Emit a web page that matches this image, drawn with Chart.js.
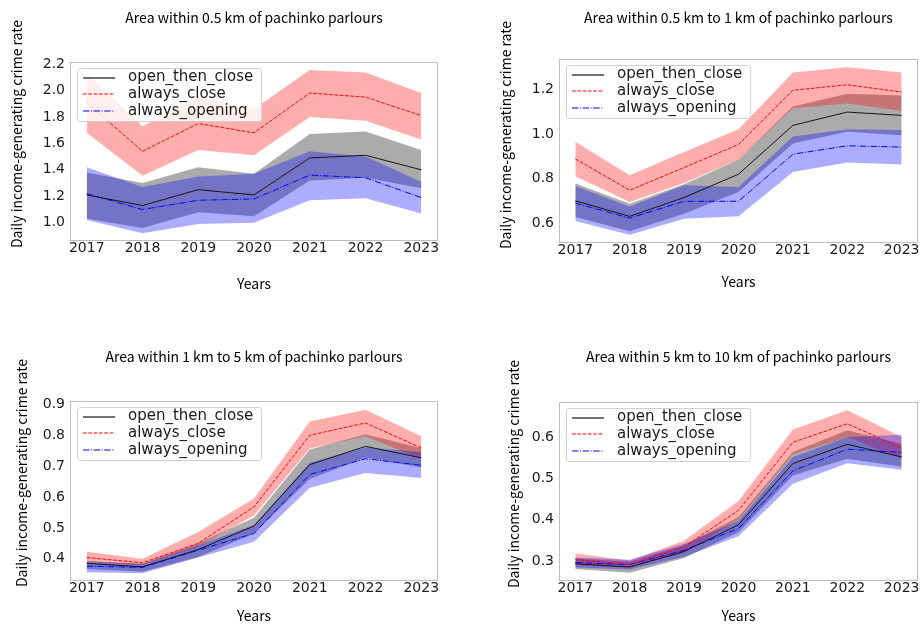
<!DOCTYPE html>
<html>
<head>
<meta charset="utf-8">
<script src="https://cdn.jsdelivr.net/npm/chart.js@4.4.1/dist/chart.umd.min.js"></script>
<style>
  html, body { margin: 0; padding: 0; background: #ffffff; overflow: hidden; }
  #wrap { position: relative; width: 921px; height: 624px; }
  #wrap canvas { position: absolute; }
</style>
</head>
<body>
<div id="wrap"></div>
<script>
// ---- shared categories / labels ----
const years = [2017, 2018, 2019, 2020, 2021, 2022, 2023];
const seriesNames = ['open_then_close', 'always_close', 'always_opening'];
const panelTitles = [
  'Area within 0.5 km of pachinko parlours',
  'Area within 0.5 km to 1 km of pachinko parlours',
  'Area within 1 km to 5 km of pachinko parlours',
  'Area within 5 km to 10 km of pachinko parlours'
];
const yAxisTitle = 'Daily income-generating crime rate';
const xAxisTitle = 'Years';

// ---- y tick values per panel ----
const yTicks05 = [1.0, 1.2, 1.4, 1.6, 1.8, 2.0, 2.2];
const yTicks05to1 = [0.6, 0.8, 1.0, 1.2];
const yTicks1to5 = [0.4, 0.5, 0.6, 0.7, 0.8, 0.9];
const yTicks5to10 = [0.3, 0.4, 0.5, 0.6];

// ---- within 0.5 km ----
const openMean05  = [1.21, 1.13, 1.25, 1.21, 1.49, 1.51, 1.40];
const openUpper05 = [1.38, 1.30, 1.42, 1.37, 1.67, 1.69, 1.55];
const openLower05 = [1.03, 0.96, 1.08, 1.05, 1.32, 1.34, 1.26];
const closeMean05  = [1.91, 1.54, 1.75, 1.68, 1.98, 1.95, 1.81];
const closeUpper05 = [2.13, 1.73, 1.95, 1.86, 2.155, 2.135, 1.98];
const closeLower05 = [1.68, 1.355, 1.55, 1.51, 1.80, 1.77, 1.63];
const alwaysMean05  = [1.22, 1.10, 1.17, 1.18, 1.36, 1.34, 1.19];
const alwaysUpper05 = [1.42, 1.27, 1.35, 1.37, 1.54, 1.50, 1.31];
const alwaysLower05 = [1.02, 0.92, 0.99, 1.00, 1.17, 1.185, 1.07];

// ---- 0.5 km to 1 km ----
const openMean05to1  = [0.70, 0.63, 0.715, 0.82, 1.04, 1.10, 1.085];
const openUpper05to1 = [0.778, 0.687, 0.775, 0.886, 1.125, 1.182, 1.174];
const openLower05to1 = [0.627, 0.563, 0.642, 0.74, 0.958, 1.011, 0.996];
const closeMean05to1  = [0.889, 0.748, 0.85, 0.954, 1.198, 1.223, 1.19];
const closeUpper05to1 = [0.966, 0.815, 0.92, 1.022, 1.278, 1.302, 1.278];
const closeLower05to1 = [0.811, 0.695, 0.78, 0.886, 1.117, 1.138, 1.105];
const alwaysMean05to1  = [0.69, 0.622, 0.698, 0.698, 0.91, 0.948, 0.942];
const alwaysUpper05to1 = [0.767, 0.675, 0.77, 0.762, 0.99, 1.022, 1.019];
const alwaysLower05to1 = [0.609, 0.547, 0.619, 0.63, 0.83, 0.873, 0.864];

// ---- 1 km to 5 km ----
const openMean1to5  = [0.385, 0.374, 0.43, 0.506, 0.705, 0.764, 0.727];
const openUpper1to5 = [0.392, 0.385, 0.45, 0.533, 0.754, 0.803, 0.758];
const openLower1to5 = [0.367, 0.358, 0.406, 0.482, 0.658, 0.728, 0.696];
const closeMean1to5  = [0.404, 0.387, 0.45, 0.568, 0.80, 0.84, 0.759];
const closeUpper1to5 = [0.423, 0.40, 0.487, 0.595, 0.845, 0.883, 0.797];
const closeLower1to5 = [0.39, 0.38, 0.44, 0.54, 0.757, 0.797, 0.722];
const alwaysMean1to5  = [0.376, 0.372, 0.428, 0.482, 0.673, 0.724, 0.703];
const alwaysUpper1to5 = [0.392, 0.382, 0.444, 0.509, 0.711, 0.76, 0.746];
const alwaysLower1to5 = [0.356, 0.353, 0.404, 0.455, 0.63, 0.678, 0.662];

// ---- 5 km to 10 km ----
const openMean5to10  = [0.293, 0.285, 0.323, 0.388, 0.537, 0.584, 0.553];
const openUpper5to10 = [0.306, 0.298, 0.338, 0.407, 0.565, 0.618, 0.585];
const openLower5to10 = [0.28, 0.271, 0.307, 0.37, 0.508, 0.549, 0.529];
const closeMean5to10  = [0.303, 0.291, 0.334, 0.423, 0.589, 0.634, 0.575];
const closeUpper5to10 = [0.318, 0.301, 0.349, 0.446, 0.62, 0.667, 0.602];
const closeLower5to10 = [0.289, 0.284, 0.319, 0.40, 0.559, 0.602, 0.549];
const alwaysMean5to10  = [0.296, 0.291, 0.326, 0.379, 0.519, 0.572, 0.564];
const alwaysUpper5to10 = [0.308, 0.303, 0.342, 0.397, 0.553, 0.602, 0.607];
const alwaysLower5to10 = [0.284, 0.279, 0.310, 0.36, 0.488, 0.538, 0.522];

// ---- panel definitions (data references + y limits) ----
const panels = [
  { title: panelTitles[0], yMin: 0.862, yMax: 2.215, yTicks: yTicks05,
    mean: [openMean05, closeMean05, alwaysMean05],
    upper: [openUpper05, closeUpper05, alwaysUpper05],
    lower: [openLower05, closeLower05, alwaysLower05] },
  { title: panelTitles[1], yMin: 0.510, yMax: 1.339, yTicks: yTicks05to1,
    mean: [openMean05to1, closeMean05to1, alwaysMean05to1],
    upper: [openUpper05to1, closeUpper05to1, alwaysUpper05to1],
    lower: [openLower05to1, closeLower05to1, alwaysLower05to1] },
  { title: panelTitles[2], yMin: 0.328, yMax: 0.911, yTicks: yTicks1to5,
    mean: [openMean1to5, closeMean1to5, alwaysMean1to5],
    upper: [openUpper1to5, closeUpper1to5, alwaysUpper1to5],
    lower: [openLower1to5, closeLower1to5, alwaysLower1to5] },
  { title: panelTitles[3], yMin: 0.251, yMax: 0.687, yTicks: yTicks5to10,
    mean: [openMean5to10, closeMean5to10, alwaysMean5to10],
    upper: [openUpper5to10, closeUpper5to10, alwaysUpper5to10],
    lower: [openLower5to10, closeLower5to10, alwaysLower5to10] }
];

// ---- page layout of the four subplots ----
const boxes = [
  { x: 0,   y: 0,   w: 460, h: 312, L: 70,  R: 438, T: 62,  B: 241, titleY: 18,  yTitleX: 17,  yTitleY: 134, xTitleY: 284 },
  { x: 460, y: 0,   w: 461, h: 312, L: 559, R: 918, T: 59,  B: 243, titleY: 18,  yTitleX: 506, yTitleY: 135, xTitleY: 282 },
  { x: 0,   y: 312, w: 460, h: 312, L: 70,  R: 438, T: 401, B: 581, titleY: 357, yTitleX: 22,  yTitleY: 473, xTitleY: 616 },
  { x: 460, y: 312, w: 461, h: 312, L: 559, R: 918, T: 402, B: 581, titleY: 357, yTitleX: 514, yTitleY: 474, xTitleY: 617 }
];

// ---- styles ----
const lineStyles = [
  { color: 'rgb(20,20,20)', dash: [] },
  { color: 'rgb(255,0,0)', dash: [3.7, 1.6] },
  { color: 'rgb(0,0,255)', dash: [6.4, 1.6, 1, 1.6] }
];
const bandColors = ['rgba(0,0,0,0.33)', 'rgba(255,0,0,0.32)', 'rgba(0,0,255,0.32)'];

const JP_FONT = '"Noto Sans CJK JP", "Noto Sans", sans-serif';
const TICK_FONT = '"DejaVu Sans", sans-serif';

const toPoints = arr => arr.map((v, i) => ({ x: years[i], y: v }));

// light-grey frame around the plotting area
const framePlugin = {
  id: 'frame',
  afterDatasetsDraw(chart) {
    const a = chart.chartArea, ctx = chart.ctx;
    ctx.save();
    ctx.strokeStyle = '#bdbdbd';
    ctx.lineWidth = 1;
    ctx.strokeRect(Math.round(a.left) + 0.5, Math.round(a.top) + 0.5,
                   Math.round(a.right - a.left) - 1, Math.round(a.bottom - a.top) - 1);
    ctx.restore();
  }
};

// legend drawn inside the upper-left corner of the plotting area
const insideLegend = {
  id: 'insideLegend',
  afterDraw(chart) {
    const a = chart.chartArea, ctx = chart.ctx;
    const x = Math.round(a.left) + 7, y = Math.round(a.top) + 6;
    ctx.save();
    ctx.font = '15px ' + TICK_FONT;
    const textW = Math.max(...seriesNames.map(n => ctx.measureText(n).width));
    const w = 51 + textW + 8, h = 53;
    ctx.beginPath();
    ctx.roundRect(x + 0.5, y + 0.5, w, h, 3);
    ctx.fillStyle = 'rgba(255,255,255,0.8)';
    ctx.fill();
    ctx.strokeStyle = '#d0d0d0';
    ctx.lineWidth = 1;
    ctx.stroke();
    ctx.restore();
    seriesNames.forEach((name, i) => {
      const ry = y + 9.5 + i * 16.7;
      const ds = chart.data.datasets[i];
      ctx.save();
      ctx.lineWidth = 1.2;
      ctx.setLineDash(ds.borderDash);
      ctx.strokeStyle = ds.borderColor;
      ctx.beginPath();
      ctx.moveTo(x + 6, Math.round(ry));
      ctx.lineTo(x + 38, Math.round(ry));
      ctx.stroke();
      ctx.restore();
      ctx.save();
      ctx.font = '15px ' + TICK_FONT;
      ctx.fillStyle = '#1a1a1a';
      ctx.textBaseline = 'middle';
      ctx.textAlign = 'left';
      ctx.fillText(name, x + 51, ry);
      ctx.restore();
    });
  }
};

// rotated y-axis caption
const yCaption = {
  id: 'yCaption',
  afterDraw(chart, args, opts) {
    const ctx = chart.ctx;
    ctx.save();
    ctx.translate(opts.x, opts.y);
    ctx.rotate(-Math.PI / 2);
    ctx.font = '14px ' + JP_FONT;
    ctx.fillStyle = '#000000';
    ctx.textAlign = 'center';
    ctx.textBaseline = 'middle';
    ctx.fillText(yAxisTitle, 0, 0);
    ctx.restore();
  }
};

const wrap = document.getElementById('wrap');

panels.forEach((p, k) => {
  const b = boxes[k];
  const cv = document.createElement('canvas');
  cv.width = b.w; cv.height = b.h;
  cv.style.left = b.x + 'px'; cv.style.top = b.y + 'px';
  cv.style.width = b.w + 'px'; cv.style.height = b.h + 'px';
  wrap.appendChild(cv);

  const datasets = [];
  // mean lines first so they stay above everything
  for (let s = 0; s < 3; s++) {
    datasets.push({
      label: seriesNames[s],
      data: toPoints(p.mean[s]),
      borderColor: lineStyles[s].color,
      borderDash: lineStyles[s].dash.slice(),
      borderWidth: 1,
      pointRadius: 0,
      fill: false,
      tension: 0
    });
  }
  // confidence bands; the filler paints the later ones first
  [2, 1, 0].forEach(s => {
    datasets.push({
      label: seriesNames[s] + ' upper',
      data: toPoints(p.upper[s]),
      borderColor: 'rgba(0,0,0,0)',
      borderWidth: 0,
      pointRadius: 0,
      backgroundColor: bandColors[s],
      fill: '+1',
      tension: 0
    });
    datasets.push({
      label: seriesNames[s] + ' lower',
      data: toPoints(p.lower[s]),
      borderColor: 'rgba(0,0,0,0)',
      borderWidth: 0,
      pointRadius: 0,
      fill: false,
      tension: 0
    });
  });

  const lh = 14 * 1.2;
  const titleCy = b.titleY - b.y;
  const xTitleLh = 14 * 1.2;
  const xTitlePad = Math.max(0, b.h - xTitleLh / 2 - (b.xTitleY - b.y));

  new Chart(cv, {
    type: 'line',
    data: { datasets },
    options: {
      responsive: false,
      animation: false,
      events: [],
      devicePixelRatio: 1,
      layout: { padding: { left: 0, top: 0, bottom: 0, right: b.w - (b.R - b.x) } },
      scales: {
        x: {
          type: 'linear',
          min: 2016.7,
          max: 2023.3,
          afterBuildTicks: sc => { sc.ticks = years.map(v => ({ value: v })); },
          afterFit: sc => { sc.height = b.h - (b.B - b.y); },
          grid: { display: false, drawTicks: false },
          border: { display: false },
          ticks: {
            autoSkip: false, maxRotation: 0, minRotation: 0, padding: -1,
            color: '#1a1a1a',
            font: { family: TICK_FONT, size: 14 },
            callback: v => String(v)
          },
          title: {
            display: true, text: xAxisTitle, color: '#000000',
            font: { family: JP_FONT, size: 14 },
            padding: { top: 0, bottom: xTitlePad }
          }
        },
        y: {
          type: 'linear',
          min: p.yMin,
          max: p.yMax,
          afterBuildTicks: sc => { sc.ticks = p.yTicks.map(v => ({ value: v })); },
          afterFit: sc => { sc.width = b.L - b.x; },
          grid: { display: false, drawTicks: false },
          border: { display: false },
          ticks: {
            padding: 5,
            color: '#1a1a1a',
            font: { family: TICK_FONT, size: 14 },
            callback: v => Number(v).toFixed(1)
          }
        }
      },
      plugins: {
        legend: { display: false },
        tooltip: { enabled: false },
        title: {
          display: true,
          text: p.title,
          fullSize: false,
          color: '#000000',
          font: { family: JP_FONT, size: 14, weight: 'normal' },
          padding: { top: titleCy - lh / 2, bottom: (b.T - b.y) - titleCy - lh / 2 }
        },
        yCaption: { x: b.yTitleX - b.x, y: b.yTitleY - b.y }
      }
    },
    plugins: [framePlugin, insideLegend, yCaption]
  });
});
</script>
</body>
</html>
